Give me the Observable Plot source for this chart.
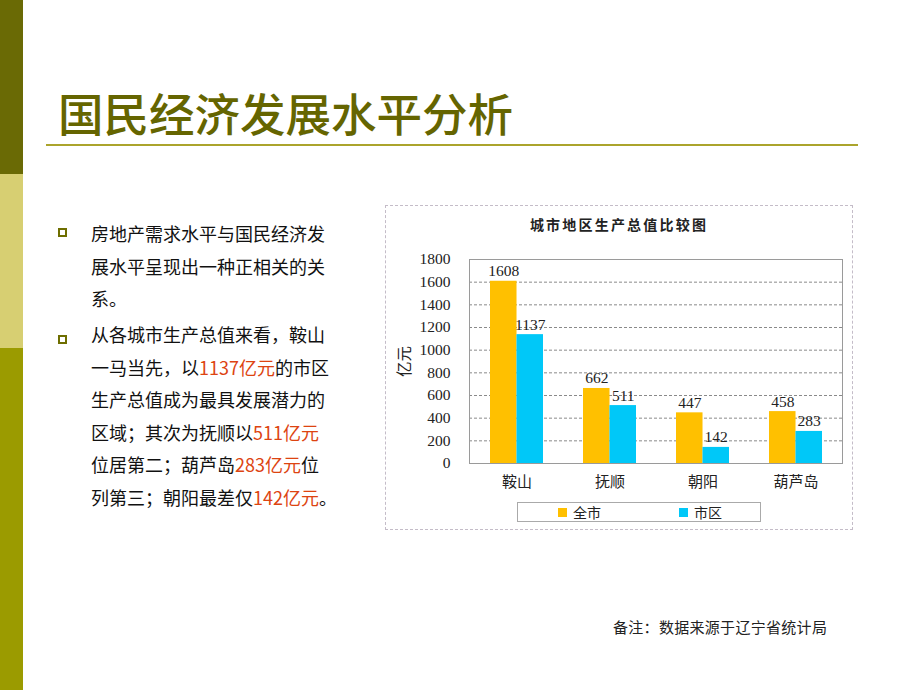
<!DOCTYPE html>
<html><head><meta charset="utf-8">
<script src="https://cdn.jsdelivr.net/npm/d3@7"></script>
<script src="https://cdn.jsdelivr.net/npm/@observablehq/plot@0.6"></script>
<style>
body{margin:0;background:#fff;}
#slide{position:relative;width:920px;height:690px;background:#fff;overflow:hidden;font-family:"Noto Sans CJK SC","Noto Sans",sans-serif;color:#111;}
.strip{position:absolute;left:0;width:23px;}
#title{position:absolute;left:58px;top:90px;font-size:45.5px;line-height:45px;color:#656500;white-space:nowrap;font-weight:500;}
#rule{position:absolute;left:46px;top:144px;width:812px;height:2px;background:#aba42c;}
.para{position:absolute;left:91px;font-size:18px;line-height:32.5px;white-space:nowrap;}
.bul{position:absolute;left:58px;width:5px;height:5px;border:2px solid #6e6e00;background:#fff;}
.red{color:#dd4411;}
#chartbox{position:absolute;left:385px;top:205px;width:466px;height:323px;border:1px dashed #c4bcc8;}
#ctitle{position:absolute;left:0;width:466px;top:8px;text-align:center;font-size:14px;font-weight:bold;letter-spacing:2.2px;color:#222;}
#plot{position:absolute;left:0;top:34px;}
#legend{position:absolute;left:131px;top:296px;width:244px;height:20px;border:1px solid #aaa;display:flex;align-items:center;padding-left:40px;box-sizing:border-box;font-size:14px;color:#222;white-space:nowrap;}
.item{display:flex;align-items:center;margin-right:78px;flex-shrink:0;white-space:nowrap;}
.sw{width:9px;height:9px;margin-right:6px;flex-shrink:0;}
#foot{position:absolute;left:613px;top:616px;font-size:15px;line-height:22px;color:#222;letter-spacing:0.3px;white-space:nowrap;}
</style></head><body>
<div id="slide">
  <div class="strip" style="top:0;height:174px;background:#6a6a05;"></div>
  <div class="strip" style="top:174px;height:174px;background:#d7cf72;"></div>
  <div class="strip" style="top:348px;height:342px;background:#9b9b00;"></div>
  <div id="title">国民经济发展水平分析</div>
  <div id="rule"></div>
  <div class="bul" style="top:228px;"></div>
  <div class="para" style="top:217px;">房地产需求水平与国民经济发<br>展水平呈现出一种正相关的关<br>系。</div>
  <div class="bul" style="top:335px;"></div>
  <div class="para" style="top:318px;">从各城市生产总值来看，鞍山<br>一马当先，以<span class="red">1137亿元</span>的市区<br>生产总值成为最具发展潜力的<br>区域；其次为抚顺以<span class="red">511亿元</span><br>位居第二；葫芦岛<span class="red">283亿元</span>位<br>列第三；朝阳最差仅<span class="red">142亿元</span>。</div>
  <div id="chartbox">
    <div id="ctitle">城市地区生产总值比较图</div>
    <div id="plot"></div>
    <div id="legend"></div>
  </div>
  <div id="foot">备注：数据来源于辽宁省统计局</div>
</div>
<script>
const cities = ["鞍山", "抚顺", "朝阳", "葫芦岛"];
const seriesNames = ["全市", "市区"];
const wholeCity = [1608, 662, 447, 458];
const urbanArea = [1137, 511, 142, 283];
const yTicks = [0, 200, 400, 600, 800, 1000, 1200, 1400, 1600, 1800];
const seriesColors = ["#ffc000", "#00c8f8"];

const rows = cities.flatMap((c, i) => [
  {city: c, series: seriesNames[0], value: wholeCity[i]},
  {city: c, series: seriesNames[1], value: urbanArea[i]}
]);

const W = 466, H = 258, ML = 83, MR = 10, MT = 19, MB = 35;
const padInner = 0.432;
const step = (W - ML - MR) / cities.length;
const bw = step * (1 - padInner);
const half = bw / 2;

const first = rows.filter(d => d.series === seriesNames[0]);
const second = rows.filter(d => d.series === seriesNames[1]);

const chart = Plot.plot({
  width: W, height: H,
  marginLeft: ML, marginRight: MR, marginTop: MT, marginBottom: MB,
  style: {fontFamily: '"Liberation Serif","Noto Sans CJK SC",serif', fontSize: "15px", color: "#222", background: "transparent", overflow: "visible"},
  x: {domain: cities, paddingInner: padInner, paddingOuter: padInner / 2, label: null},
  y: {domain: [0, 1800], label: null},
  color: {domain: seriesNames, range: seriesColors},
  marks: [
    Plot.gridY(yTicks.filter(t => t > 0 && t < 1800), {stroke: "#8a8a8a", strokeOpacity: 1, strokeDasharray: "3,2"}),
    Plot.barY(first, {x: "city", y: "value", fill: "series", insetRight: half}),
    Plot.barY(second, {x: "city", y: "value", fill: "series", insetLeft: half}),
    Plot.frame({stroke: "#9a9a9a"}),
    Plot.text(first, {x: "city", y: "value", text: d => String(d.value), dx: -half / 2, dy: -5, lineAnchor: "bottom", fontSize: 15.5, fill: "#222"}),
    Plot.text(second, {x: "city", y: "value", text: d => String(d.value), dx: half / 2, dy: -5, lineAnchor: "bottom", fontSize: 15.5, fill: "#222"}),
    Plot.axisY(yTicks, {tickSize: 0, tickPadding: 19, fontSize: 15.5, tickFormat: d => String(d), label: "亿元", labelAnchor: "center", labelOffset: 71, labelArrow: "none"}),
    Plot.axisX({tickSize: 0, tickPadding: 13, fontSize: 15, label: null})
  ]
});
document.getElementById("plot").appendChild(chart);

const lg = document.getElementById("legend");
seriesNames.forEach((s, i) => {
  const it = document.createElement("div");
  it.className = "item";
  const sw = document.createElement("div");
  sw.className = "sw";
  sw.style.background = seriesColors[i];
  const tx = document.createElement("span");
  tx.textContent = s;
  it.appendChild(sw); it.appendChild(tx);
  lg.appendChild(it);
});
</script>
</body></html>
